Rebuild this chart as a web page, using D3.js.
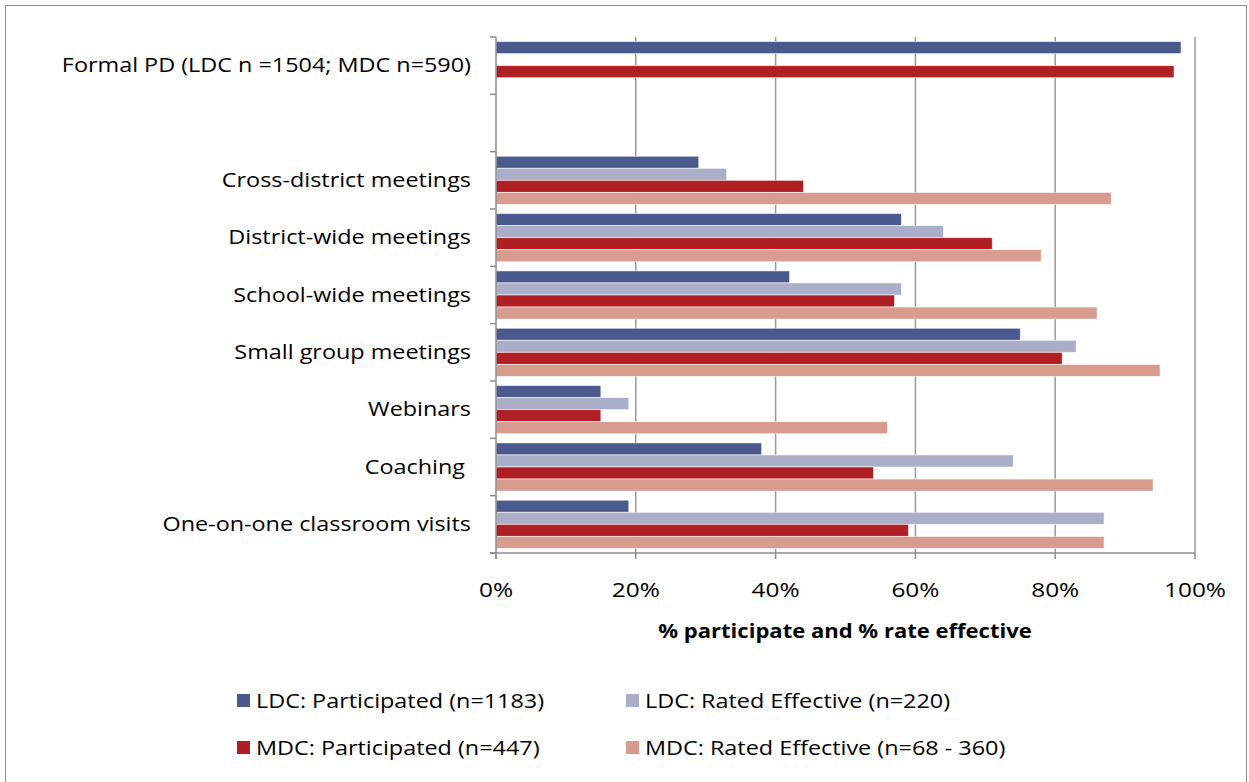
<!DOCTYPE html>
<html><head><meta charset="utf-8">
<script src="https://cdn.jsdelivr.net/npm/d3@7"></script>
<style>
body{margin:0;background:#fff;}
text{font-family:"Open Sans","Noto Sans",sans-serif;fill:#000;}
</style></head>
<body>
<svg id="chart" width="1249" height="782"></svg>
<script>
const categories = ["Formal PD (LDC n =1504; MDC n=590)", "", "Cross-district meetings", "District-wide meetings", "School-wide meetings", "Small group meetings", "Webinars", "Coaching ", "One-on-one classroom visits"];
const seriesNames = ["LDC: Participated (n=1183)", "LDC: Rated Effective (n=220)", "MDC: Participated (n=447)", "MDC: Rated Effective (n=68 - 360)"];
const ldcParticipated = [98, null, 29, 58, 42, 75, 15, 38, 19];
const ldcEffective    = [null, null, 33, 64, 58, 83, 19, 74, 87];
const mdcParticipated = [97, null, 44, 71, 57, 81, 15, 54, 59];
const mdcEffective    = [null, null, 88, 78, 86, 95, 56, 94, 87];
const xTicks = [0, 20, 40, 60, 80, 100];
const colors = ["#4a5a8e", "#aaaec9", "#b01f24", "#d79c8e"];
const xTitle = "% participate and % rate effective";

const seriesValues = [ldcParticipated, ldcEffective, mdcParticipated, mdcEffective];
const svg = d3.select("#chart");
const FS = 19.5, SX = 1.2;

// helper: text placed at (x,y) with horizontal stretch
function addText(parent, x, y, str, anchor, opts={}){
  const g = parent.append("g").attr("transform",`translate(${x},${y}) scale(${opts.sx||SX},1)`);
  const t = g.append("text").attr("x",0).attr("y",0).attr("text-anchor",anchor)
    .attr("font-size",opts.fs||FS).style("white-space","pre").text(str);
  if(opts.bold) t.attr("font-weight","bold");
  if(opts.dy) t.attr("dy",opts.dy);
  return t;
}

// outer border
svg.append("rect").attr("x",5.5).attr("y",5.5).attr("width",1241).attr("height",800)
  .attr("fill","none").attr("stroke","#8c8c8c").attr("stroke-width",1);

const pLeft = 496, pRight = 1195, pTop = 37, pBottom = 553;
const x = d3.scaleLinear().domain([0,100]).range([pLeft,pRight]);
const y = d3.scaleBand().domain(categories.map((c,i)=>i)).range([pTop,pBottom]).paddingInner(0).paddingOuter(0);
const yi = d3.scaleBand().domain(d3.range(4)).range([0,y.bandwidth()]).paddingInner(0).paddingOuter(0.38);

// gridlines
svg.append("g").selectAll("line").data(xTicks.slice(1)).join("line")
  .attr("x1",d=>x(d)).attr("x2",d=>x(d)).attr("y1",pTop).attr("y2",pBottom)
  .attr("stroke","#9a9a9a").attr("stroke-width",1.5);

// bars
const rows = [];
categories.forEach((c,i)=>{
  seriesValues.forEach((arr,s)=>{
    if(arr[i]!=null) rows.push({i,s,v:arr[i]});
  });
});
svg.append("g").selectAll("rect").data(rows).join("rect")
  .attr("x",x(0)).attr("y",d=>y(d.i)+yi(d.s))
  .attr("width",d=>x(d.v)-x(0)).attr("height",yi.bandwidth())
  .attr("fill",d=>colors[d.s])
  .attr("stroke","#ffffff").attr("stroke-opacity",0.7).attr("stroke-width",0.8);

// y axis line & ticks
const axisColor = "#8c8c8c";
svg.append("line").attr("x1",pLeft).attr("x2",pLeft).attr("y1",pTop).attr("y2",pBottom+6)
  .attr("stroke",axisColor).attr("stroke-width",1.5);
const bounds = categories.map((c,i)=>y(i)).concat([pBottom]);
svg.append("g").selectAll("line").data(bounds).join("line")
  .attr("x1",pLeft-6).attr("x2",pLeft).attr("y1",d=>d).attr("y2",d=>d)
  .attr("stroke",axisColor).attr("stroke-width",1.5);

// x axis line & ticks
svg.append("line").attr("x1",pLeft-6).attr("x2",pRight).attr("y1",pBottom).attr("y2",pBottom)
  .attr("stroke",axisColor).attr("stroke-width",1.5);
svg.append("g").selectAll("line").data(xTicks).join("line")
  .attr("x1",d=>x(d)).attr("x2",d=>x(d)).attr("y1",pBottom).attr("y2",pBottom+6)
  .attr("stroke",axisColor).attr("stroke-width",1.5);

// x tick labels
const tickG = svg.append("g");
xTicks.forEach(d=>addText(tickG, x(d), 597, d+"%", "middle", {sx:1.25}));

// x title
addText(svg, 845, 638, xTitle, "middle", {bold:true, sx:1.13});

// category labels
const catG = svg.append("g");
categories.forEach((c,i)=>addText(catG, 471, y(i)+y.bandwidth()/2, c, "end", {dy:"0.35em"}));

// legend
const legPos = [[237,701],[626,701],[237,748],[626,748]];
const legG = svg.append("g");
seriesNames.forEach((n,i)=>{
  legG.append("rect").attr("x",legPos[i][0]).attr("y",legPos[i][1]-7).attr("width",13).attr("height",13)
    .attr("fill",colors[i]);
  addText(legG, legPos[i][0]+19, legPos[i][1], n, "start", {dy:"0.35em"});
});
</script>
</body></html>
